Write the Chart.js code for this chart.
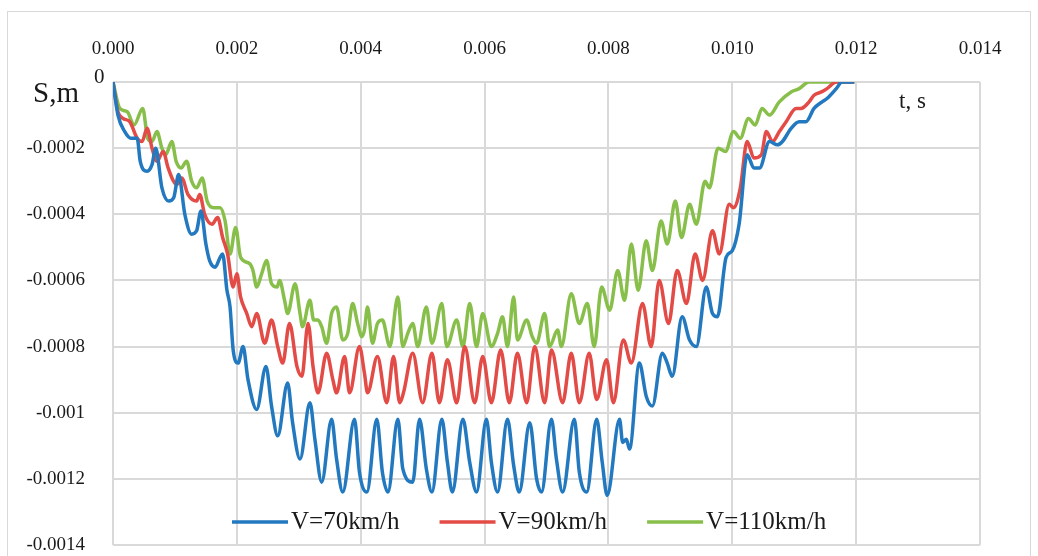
<!DOCTYPE html>
<html>
<head>
<meta charset="utf-8">
<script src="https://cdn.jsdelivr.net/npm/chart.js@4.4.0/dist/chart.umd.min.js"></script>
<style>
  html, body { margin: 0; padding: 0; background: #fff; }
  #wrap { position: relative; width: 1038px; height: 556px; overflow: hidden; }
  #frame { position: absolute; left: 7px; top: 11px; width: 1024px; height: 560px; border: 1px solid #d9d9d9; box-sizing: border-box; }
  canvas { position: absolute; left: 0; top: 0; }
</style>
</head>
<body>
<div id="wrap">
  <div id="frame"></div>
  <canvas id="chart" width="1038" height="556" style="width:1038px;height:556px"></canvas>
</div>
<script>
// tick values
const xTickValues = [0, 0.002, 0.004, 0.006, 0.008, 0.010, 0.012, 0.014];
const yTickValues = [0, -0.0002, -0.0004, -0.0006, -0.0008, -0.001, -0.0012, -0.0014];
const seriesNames = ['V=70km/h', 'V=90km/h', 'V=110km/h'];
const yTitle = 'S,m';
const xTitle = 't, s';

// V=70km/h
const t70 = [0, 0.00008, 0.00019, 0.00029, 0.00039, 0.00044, 0.00055, 0.00063, 0.00069, 0.00079, 0.00090, 0.00098, 0.00106,
  0.00116, 0.00127, 0.00135, 0.00142, 0.00150, 0.00156, 0.00165, 0.00173, 0.00177, 0.00184, 0.00189, 0.00194, 0.00202,
  0.00210, 0.00218, 0.00232, 0.00247, 0.00256, 0.00266, 0.00282, 0.00290, 0.00302, 0.00318, 0.00326, 0.00337, 0.00353,
  0.00361, 0.00371, 0.00390, 0.00398, 0.00410, 0.00426, 0.00435, 0.00444, 0.00460, 0.00468, 0.00484, 0.00495, 0.00506,
  0.00515, 0.00531, 0.00540, 0.00548, 0.00565, 0.00576, 0.00587, 0.00603, 0.00611, 0.00621, 0.00637, 0.00647, 0.00656,
  0.00673, 0.00684, 0.00692, 0.00708, 0.00716, 0.00726, 0.00745, 0.00753, 0.00765, 0.00781, 0.00790, 0.00798, 0.00818,
  0.00823, 0.00829, 0.00834, 0.00850, 0.00861, 0.00871, 0.00887, 0.00895, 0.00903, 0.00919, 0.00931, 0.00942, 0.00958,
  0.00968, 0.00976, 0.00990, 0.01000, 0.01011, 0.01024, 0.01035, 0.01044, 0.01060, 0.01073, 0.01081, 0.01095, 0.01108,
  0.01119, 0.01132, 0.01145, 0.01153, 0.01168, 0.01177, 0.01197];
const s70 = [0, -0.00010, -0.00015, -0.00017, -0.00017, -0.00024, -0.00027, -0.00025, -0.00020, -0.00032, -0.00036, -0.00035, -0.00028,
  -0.00040, -0.00046, -0.00045, -0.00039, -0.00049, -0.00054, -0.00056, -0.00053, -0.00052, -0.00063, -0.00068, -0.00081, -0.00085,
  -0.00080, -0.00090, -0.00099, -0.00086, -0.00098, -0.00107, -0.00091, -0.00103, -0.00114, -0.00097, -0.00108, -0.00121, -0.00102,
  -0.00114, -0.00124, -0.00102, -0.00118, -0.00124, -0.00102, -0.00118, -0.00124, -0.00102, -0.00117, -0.00121, -0.00102, -0.00117,
  -0.00124, -0.00102, -0.00115, -0.00124, -0.00102, -0.00115, -0.00124, -0.00102, -0.00115, -0.00124, -0.00102, -0.00116, -0.00124,
  -0.00103, -0.00120, -0.00124, -0.00102, -0.00114, -0.00124, -0.00102, -0.00118, -0.00124, -0.00102, -0.00115, -0.00125, -0.00102,
  -0.00109, -0.00108, -0.00111, -0.00085, -0.00095, -0.00098, -0.00082, -0.00085, -0.00089, -0.00071, -0.00078, -0.00080, -0.00062,
  -0.00070, -0.00071, -0.00053, -0.00051, -0.00043, -0.00022, -0.00026, -0.00026, -0.00018, -0.00019, -0.00018, -0.00014, -0.00012,
  -0.00012, -0.00008, -0.00006, -0.00005, -0.00002, 0, 0];

// V=90km/h
const t90 = [0, 0.00008, 0.00016, 0.00027, 0.00039, 0.00047, 0.00055, 0.00063, 0.00071, 0.00081, 0.00089, 0.00103, 0.00111,
  0.00121, 0.00135, 0.00140, 0.00148, 0.00160, 0.00169, 0.00177, 0.00185, 0.00194, 0.00200, 0.00206, 0.00216, 0.00224,
  0.00232, 0.00245, 0.00256, 0.00266, 0.00274, 0.00285, 0.00297, 0.00305, 0.00315, 0.00323, 0.00331, 0.00345, 0.00355,
  0.00361, 0.00374, 0.00382, 0.00398, 0.00406, 0.00411, 0.00427, 0.00442, 0.00453, 0.00463, 0.00469, 0.00484, 0.00500,
  0.00515, 0.00527, 0.00540, 0.00555, 0.00568, 0.00584, 0.00597, 0.00611, 0.00626, 0.00640, 0.00653, 0.00668, 0.00681,
  0.00697, 0.00708, 0.00726, 0.00740, 0.00753, 0.00769, 0.00781, 0.00797, 0.00808, 0.00824, 0.00837, 0.00855, 0.00869,
  0.00882, 0.00897, 0.00911, 0.00926, 0.00940, 0.00952, 0.00968, 0.00979, 0.00995, 0.01002, 0.01013, 0.01024, 0.01035,
  0.01047, 0.01055, 0.01065, 0.01076, 0.01087, 0.01103, 0.01111, 0.01124, 0.01132, 0.01144, 0.01153, 0.01168, 0.01197];
const s90 = [0, -0.00009, -0.00011, -0.00012, -0.00017, -0.00018, -0.00014, -0.00020, -0.00024, -0.00021, -0.00026, -0.00031, -0.00029,
  -0.00034, -0.00036, -0.00034, -0.00040, -0.00043, -0.00041, -0.00047, -0.00052, -0.00062, -0.00058, -0.00065, -0.00070, -0.00074,
  -0.00070, -0.00079, -0.00072, -0.00080, -0.00085, -0.00073, -0.00086, -0.00089, -0.00073, -0.00086, -0.00094, -0.00082, -0.00090,
  -0.00094, -0.00083, -0.00094, -0.00080, -0.00088, -0.00094, -0.00083, -0.00097, -0.00083, -0.00097, -0.00094, -0.00082, -0.00097,
  -0.00082, -0.00097, -0.00084, -0.00097, -0.00080, -0.00097, -0.00083, -0.00097, -0.00081, -0.00097, -0.00082, -0.00097, -0.00080,
  -0.00097, -0.00081, -0.00097, -0.00082, -0.00097, -0.00082, -0.00096, -0.00084, -0.00097, -0.00078, -0.00085, -0.00067, -0.00080,
  -0.00060, -0.00073, -0.00057, -0.00067, -0.00052, -0.00060, -0.00045, -0.00052, -0.00037, -0.00038, -0.00032, -0.00018, -0.00023,
  -0.00022, -0.00015, -0.00018, -0.00015, -0.00012, -0.00008, -0.00008, -0.00006, -0.00004, -0.00003, -0.00002, 0, 0];

// V=110km/h
const t110 = [0, 0.00011, 0.00023, 0.00034, 0.00048, 0.00056, 0.00063, 0.00071, 0.00079, 0.00085, 0.00095, 0.00102, 0.00110,
  0.00119, 0.00127, 0.00135, 0.00144, 0.00152, 0.00163, 0.00173, 0.00181, 0.00189, 0.00198, 0.00206, 0.00221, 0.00226,
  0.00232, 0.00240, 0.00248, 0.00256, 0.00265, 0.00269, 0.00277, 0.00282, 0.00294, 0.00302, 0.00306, 0.00318, 0.00324,
  0.00331, 0.00337, 0.00345, 0.00353, 0.00361, 0.00371, 0.00379, 0.00387, 0.00395, 0.00402, 0.00406, 0.00411, 0.00419,
  0.00427, 0.00435, 0.00447, 0.00460, 0.00468, 0.00476, 0.00484, 0.00492, 0.00506, 0.00515, 0.00531, 0.00539, 0.00555,
  0.00565, 0.00576, 0.00587, 0.00597, 0.00611, 0.00621, 0.00629, 0.00637, 0.00647, 0.00653, 0.00668, 0.00677, 0.00684,
  0.00697, 0.00705, 0.00718, 0.00724, 0.00740, 0.00753, 0.00766, 0.00777, 0.00789, 0.00802, 0.00815, 0.00826, 0.00837,
  0.00848, 0.00861, 0.00871, 0.00885, 0.00895, 0.00908, 0.00918, 0.00931, 0.00942, 0.00956, 0.00963, 0.00977, 0.00989,
  0.01002, 0.01013, 0.01026, 0.01037, 0.01048, 0.01060, 0.01076, 0.01095, 0.01108, 0.01124, 0.01197];
const s110 = [0, -0.00008, -0.00009, -0.00013, -0.00008, -0.00017, -0.00018, -0.00015, -0.00020, -0.00022, -0.00018, -0.00024, -0.00026,
  -0.00024, -0.00030, -0.00032, -0.00029, -0.00036, -0.00038, -0.00038, -0.00042, -0.00052, -0.00044, -0.00053, -0.00055, -0.00057,
  -0.00062, -0.00058, -0.00054, -0.00061, -0.00062, -0.00060, -0.00066, -0.00070, -0.00061, -0.00070, -0.00074, -0.00066, -0.00072,
  -0.00072, -0.00074, -0.00079, -0.00070, -0.00068, -0.00078, -0.00076, -0.00067, -0.00073, -0.00077, -0.00075, -0.00068, -0.00079,
  -0.00073, -0.00072, -0.00080, -0.00065, -0.00080, -0.00076, -0.00073, -0.00080, -0.00068, -0.00079, -0.00067, -0.00080, -0.00072,
  -0.00080, -0.00067, -0.00080, -0.00070, -0.00080, -0.00076, -0.00071, -0.00080, -0.00065, -0.00078, -0.00072, -0.00077, -0.00079,
  -0.00070, -0.00080, -0.00075, -0.00080, -0.00064, -0.00073, -0.00067, -0.00080, -0.00062, -0.00069, -0.00057, -0.00066, -0.00049,
  -0.00063, -0.00048, -0.00057, -0.00042, -0.00049, -0.00036, -0.00047, -0.00037, -0.00043, -0.00030, -0.00032, -0.00020, -0.00021,
  -0.00015, -0.00017, -0.00011, -0.00013, -0.00008, -0.00010, -0.00006, -0.00003, -0.00002, 0, 0];

const colors = ['#2379bf', '#e34b47', '#88bf4b'];
const textColor = '#1a1a1a';
const serif = '"Liberation Serif", "DejaVu Serif", serif';

function pts(t, s) {
  return t.map((v, i) => ({ x: v, y: s[i] }));
}

function fmtY(v) {
  return parseFloat(v.toFixed(4)).toString();
}

// axis titles and legend drawn inside the plot, like the original
const extraText = {
  id: 'extraText',
  afterDraw(chart) {
    const c = chart.ctx;
    c.save();
    c.fillStyle = textColor;
    c.textBaseline = 'middle';
    c.textAlign = 'left';
    c.font = '29px ' + serif;
    c.fillText(yTitle, 33, 94);
    c.font = '21px ' + serif;
    c.fillText(fmtY(yTickValues[0]), 94, 77);
    c.font = '23px ' + serif;
    c.fillText(xTitle, 899, 102);

    // legend
    c.font = '25px ' + serif;
    let x = 232;
    const y = 522;
    chart.data.datasets.forEach((ds) => {
      c.strokeStyle = ds.borderColor;
      c.lineWidth = 3.5;
      c.beginPath();
      c.moveTo(x, y);
      c.lineTo(x + 56, y);
      c.stroke();
      x += 59;
      c.fillStyle = textColor;
      c.fillText(ds.label, x, y);
      x += c.measureText(ds.label).width + 40;
    });
    c.restore();
  }
};

const ctx = document.getElementById('chart').getContext('2d');
new Chart(ctx, {
  type: 'line',
  data: {
    datasets: [
      { label: seriesNames[0], data: pts(t70, s70), borderColor: colors[0] },
      { label: seriesNames[1], data: pts(t90, s90), borderColor: colors[1] },
      { label: seriesNames[2], data: pts(t110, s110), borderColor: colors[2] }
    ].map(d => Object.assign(d, {
      borderWidth: 3.5,
      pointRadius: 0,
      fill: false,
      cubicInterpolationMode: 'monotone'
    }))
  },
  options: {
    responsive: false,
    animation: false,
    layout: { padding: { left: 0, top: 0, right: 58, bottom: 11 } },
    plugins: {
      legend: { display: false },
      tooltip: { enabled: false }
    },
    scales: {
      x: {
        type: 'linear',
        position: 'top',
        min: 0,
        max: 0.014,
        afterBuildTicks: axis => { axis.ticks = xTickValues.map(v => ({ value: v })); },
        afterFit: axis => { axis.height = 82; },
        grid: { color: '#d9d9d9', lineWidth: 2, drawTicks: false },
        border: { display: false },
        ticks: {
          color: textColor,
          padding: 22,
          maxRotation: 0,
          font: { family: serif, size: 19 },
          callback: v => v.toFixed(3)
        }
      },
      y: {
        type: 'linear',
        min: -0.0014,
        max: 0,
        afterBuildTicks: axis => { axis.ticks = yTickValues.map(v => ({ value: v })); },
        afterFit: axis => {
          axis.width = 113;
          axis.paddingTop = 10;
          axis.paddingBottom = 10;
        },
        grid: { color: '#d9d9d9', lineWidth: 2, drawTicks: false },
        border: { display: false },
        ticks: {
          color: textColor,
          padding: 28,
          font: { family: serif, size: 19 },
          callback: v => (v === 0 ? '' : fmtY(v))
        }
      }
    }
  },
  plugins: [extraText]
});
</script>
</body>
</html>
